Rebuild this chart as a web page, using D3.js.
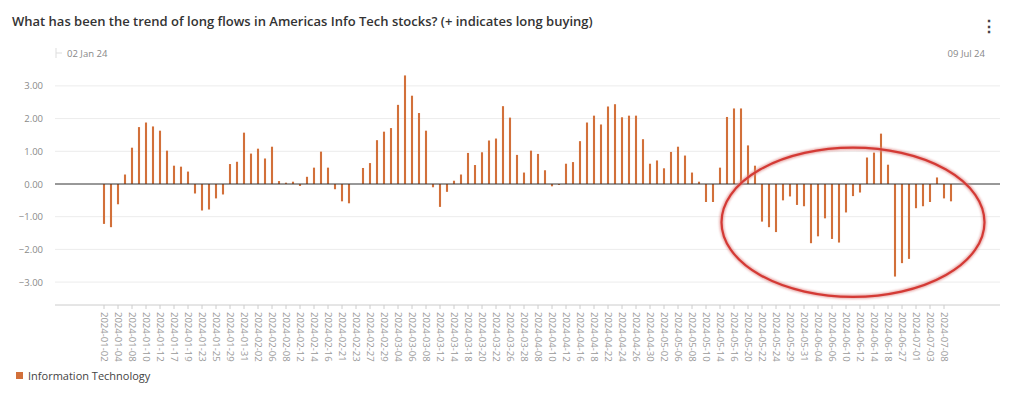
<!DOCTYPE html>
<html>
<head>
<meta charset="utf-8">
<script src="https://cdn.jsdelivr.net/npm/d3@7"></script>
<style>
  body { margin: 0; background: #fff; }
  svg { font-family: "Open Sans", "Noto Sans", sans-serif; }
</style>
</head>
<body>
<svg id="chart" width="1013" height="394"></svg>
<script>
// trading days shown on the chart (every other one gets a label)
var dates = [
  "2024-01-02","2024-01-03","2024-01-04","2024-01-05","2024-01-08","2024-01-09","2024-01-10","2024-01-11",
  "2024-01-12","2024-01-16","2024-01-17","2024-01-18","2024-01-19","2024-01-22","2024-01-23","2024-01-24",
  "2024-01-25","2024-01-26","2024-01-29","2024-01-30","2024-01-31","2024-02-01","2024-02-02","2024-02-05",
  "2024-02-06","2024-02-07","2024-02-08","2024-02-09","2024-02-12","2024-02-13","2024-02-14","2024-02-15",
  "2024-02-16","2024-02-20","2024-02-21","2024-02-22","2024-02-23","2024-02-26","2024-02-27","2024-02-28",
  "2024-02-29","2024-03-01","2024-03-04","2024-03-05","2024-03-06","2024-03-07","2024-03-08","2024-03-11",
  "2024-03-12","2024-03-13","2024-03-14","2024-03-15","2024-03-18","2024-03-19","2024-03-20","2024-03-21",
  "2024-03-22","2024-03-25","2024-03-26","2024-03-27","2024-03-28","2024-04-05","2024-04-08","2024-04-09",
  "2024-04-10","2024-04-11","2024-04-12","2024-04-15","2024-04-16","2024-04-17","2024-04-18","2024-04-19",
  "2024-04-22","2024-04-23","2024-04-24","2024-04-25","2024-04-26","2024-04-29","2024-04-30","2024-05-01",
  "2024-05-02","2024-05-03","2024-05-06","2024-05-07","2024-05-08","2024-05-09","2024-05-10","2024-05-13",
  "2024-05-14","2024-05-15","2024-05-16","2024-05-17","2024-05-20","2024-05-21","2024-05-22","2024-05-23",
  "2024-05-24","2024-05-28","2024-05-29","2024-05-30","2024-05-31","2024-06-03","2024-06-04","2024-06-05",
  "2024-06-06","2024-06-07","2024-06-10","2024-06-11","2024-06-12","2024-06-13","2024-06-14","2024-06-17",
  "2024-06-18","2024-06-26","2024-06-27","2024-06-28","2024-07-01","2024-07-02","2024-07-03","2024-07-05",
  "2024-07-08","2024-07-09"
];

// Information Technology long flows
var infoTech = [
  -1.22,-1.32,-0.62,0.29,1.11,1.74,1.88,1.76,
  1.63,1.02,0.56,0.53,0.38,-0.29,-0.81,-0.78,
  -0.44,-0.32,0.61,0.68,1.57,0.93,1.08,0.78,
  1.14,0.09,0.04,0.07,-0.06,0.22,0.50,0.99,
  0.50,-0.16,-0.53,-0.59,0.00,0.49,0.64,1.34,
  1.60,1.71,2.42,3.32,2.70,2.17,1.63,-0.10,
  -0.70,-0.24,0.10,0.29,0.95,0.58,0.97,1.33,
  1.39,2.38,2.03,0.89,0.35,1.02,0.92,0.42,
  -0.07,-0.03,0.62,0.67,1.31,1.88,2.09,1.82,
  2.37,2.44,2.04,2.09,2.09,1.37,0.62,0.72,
  0.48,0.98,1.14,0.87,0.35,0.07,-0.55,-0.55,
  0.50,2.05,2.31,2.31,1.18,0.56,-1.15,-1.32,
  -1.47,-0.50,-0.38,-0.64,-0.68,-1.81,-1.60,-1.05,
  -1.68,-1.79,-0.87,-0.37,-0.26,0.81,0.96,1.54,
  0.59,-2.83,-2.42,-2.29,-0.74,-0.68,-0.55,0.20,
  -0.44,-0.53
];

var yTicks = [3, 2, 1, 0, -1, -2, -3];
var seriesName = "Information Technology";
var titleText = "What has been the trend of long flows in Americas Info Tech stocks? (+ indicates long buying)";
var rangeStart = "02 Jan 24";
var rangeEnd = "09 Jul 24";

function drawChart() {
    var data = dates.map(function (d, i) { return {date: d, value: infoTech[i]}; });

    var svg = d3.select("#chart");
    var plotLeft = 55, plotRight = 1000, plotTop = 63, plotBottom = 305;

    var x = d3.scaleBand()
        .domain(dates)
        .range([plotLeft, plotRight])
        .paddingInner(0.7)
        .paddingOuter(6.85);

    var y = d3.scaleLinear()
        .domain([-3.7, 3.7])
        .range([plotBottom, plotTop]);

    // title
    svg.append("text")
        .attr("x", 12).attr("y", 26)
        .attr("font-size", 13).attr("font-weight", 600)
        .attr("fill", "#333")
        .text(titleText);

    // kebab menu
    svg.append("text")
        .attr("x", 989).attr("y", 32)
        .attr("text-anchor", "middle")
        .attr("font-size", 16).attr("font-weight", 700)
        .attr("fill", "#444")
        .text("\u22EE");

    // range labels at the top
    svg.append("line").attr("x1", 56).attr("x2", 56).attr("y1", 48).attr("y2", 58).attr("stroke", "#ddd");
    svg.append("line").attr("x1", 56).attr("x2", 62).attr("y1", 53).attr("y2", 53).attr("stroke", "#ddd");
    svg.append("text")
        .attr("x", 67).attr("y", 57)
        .attr("font-size", 9.5).attr("fill", "#888")
        .text(rangeStart);
    svg.append("text")
        .attr("x", 985).attr("y", 57)
        .attr("text-anchor", "end")
        .attr("font-size", 9.5).attr("fill", "#888")
        .text(rangeEnd);

    // gridlines
    svg.append("g")
        .selectAll("line")
        .data(yTicks.filter(function (t) { return t !== 0; }))
        .enter().append("line")
        .attr("x1", plotLeft).attr("x2", plotRight)
        .attr("y1", function (d) { return y(d); })
        .attr("y2", function (d) { return y(d); })
        .attr("stroke", "#ececec");

    // y axis labels
    var yAxis = svg.append("g")
        .attr("transform", "translate(" + (plotLeft - 9) + ",0)")
        .call(d3.axisLeft(y).tickValues(yTicks).tickFormat(d3.format(".2f")).tickSize(0));
    yAxis.select(".domain").remove();
    yAxis.selectAll("text")
        .attr("font-size", 9.5)
        .attr("fill", "#8a8a8a")
        .attr("font-family", "Open Sans, Noto Sans, sans-serif");

    // bottom axis with rotated date labels
    var xAxis = svg.append("g")
        .attr("transform", "translate(0," + plotBottom + ")")
        .call(d3.axisBottom(x).tickSize(4)
            .tickValues(dates.filter(function (d, i) { return i % 2 === 0; })));
    xAxis.select(".domain")
        .attr("stroke", "#ccc")
        .attr("d", "M" + plotLeft + ",0H" + plotRight);
    xAxis.selectAll(".tick line").attr("stroke", "#ccc");
    xAxis.selectAll(".tick text")
        .attr("font-size", 9.5)
        .attr("fill", "#9a9a9a")
        .attr("font-family", "Open Sans, Noto Sans, sans-serif")
        .attr("text-anchor", "start")
        .attr("transform", "rotate(90)")
        .attr("x", 7).attr("y", 0).attr("dy", "0.35em");

    // bars
    svg.append("g")
        .selectAll("rect")
        .data(data)
        .enter().append("rect")
        .attr("x", function (d) { return x(d.date); })
        .attr("width", x.bandwidth())
        .attr("y", function (d) { return y(Math.max(0, d.value)); })
        .attr("height", function (d) { return Math.abs(y(d.value) - y(0)); })
        .attr("fill", "#d2703a");

    // zero line
    svg.append("line")
        .attr("x1", plotLeft).attr("x2", plotRight)
        .attr("y1", y(0)).attr("y2", y(0))
        .attr("stroke", "#333").attr("stroke-width", 1);

    // red highlight ellipse round the recent selling
    var defs = svg.append("defs");
    defs.append("filter").attr("id", "soft")
        .append("feGaussianBlur").attr("stdDeviation", 1.2);
    var ecx = x("2024-06-11") + x.bandwidth() / 2, ecy = y(-1.17);
    var erx = (x("2024-07-09") - x("2024-05-20")) / 2 + 30, ery = y(-3.45) - y(-1.17);
    svg.append("ellipse")
        .attr("cx", ecx).attr("cy", ecy).attr("rx", erx).attr("ry", ery)
        .attr("fill", "none").attr("stroke", "#e08a88").attr("stroke-width", 4.5)
        .attr("filter", "url(#soft)").attr("opacity", 0.7);
    svg.append("ellipse")
        .attr("cx", ecx).attr("cy", ecy).attr("rx", erx).attr("ry", ery)
        .attr("fill", "none").attr("stroke", "#d43a35").attr("stroke-width", 2.2);

    // legend
    svg.append("rect")
        .attr("x", 16).attr("y", 372).attr("width", 7).attr("height", 7)
        .attr("fill", "#d2703a");
    svg.append("text")
        .attr("x", 28).attr("y", 379.5)
        .attr("font-size", 11).attr("fill", "#444")
        .text(seriesName);
}

drawChart();
</script>
</body>
</html>
